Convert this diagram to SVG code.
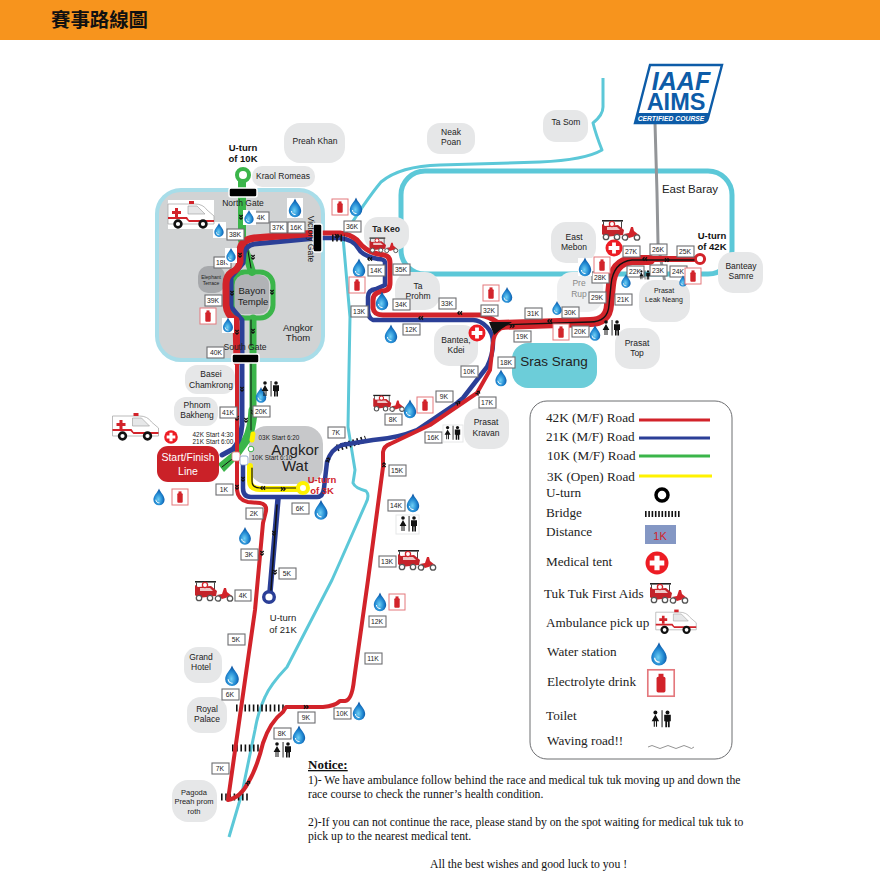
<svg xmlns="http://www.w3.org/2000/svg" width="880" height="883" viewBox="0 0 880 883">
<style>
text{font-family:"Liberation Sans",Arial,sans-serif;fill:#222;text-anchor:middle}
.pl{fill:#e6e7e8}
.pt{font-size:8.5px}
.km rect{fill:#fff;stroke:#6d6e71;stroke-width:1.1}
.km text{font-size:6.8px}
.rd{fill:none;stroke-linecap:round;stroke-linejoin:round}
.red{stroke:#d2232a}.blue{stroke:#2b3f97}.green{stroke:#3bb54a}.yellow{stroke:#fff200}.blk{stroke:#111}
.river{fill:none;stroke:#5cc8d8;stroke-width:3;stroke-linejoin:round;stroke-linecap:butt}
.tick{fill:none;stroke:#111;stroke-width:7;stroke-dasharray:1.6 2.6}
.gate{fill:#000;stroke:#fff;stroke-width:1.5}
.lg{font-family:"Liberation Serif","Times New Roman",serif;font-size:13.2px;text-anchor:start}
.nt{font-family:"Liberation Serif","Times New Roman",serif;font-size:11.7px;text-anchor:start;fill:#111}
.b{font-weight:bold;font-size:9.5px;fill:#111}
</style>
<defs>
<radialGradient id="dg" cx="0.45" cy="0.65" r="0.6"><stop offset="0" stop-color="#6fd0f5"/><stop offset="0.6" stop-color="#1f86d0"/><stop offset="1" stop-color="#0a4f9e"/></radialGradient>
<g id="chev"><path d="M-2,-1.7 L-0.4,0 L-2,1.7 M0.5,-1.7 L2.1,0 L0.5,1.7" fill="none" stroke="#111" stroke-width="1.3"/></g>
<g id="drop"><path d="M0,-9.5 C1.5,-5 6.2,-2 6.2,3 A6.2,6.2 0 0 1 -6.2,3 C-6.2,-2 -1.5,-5 0,-9.5Z" fill="url(#dg)"/><path d="M-3.5,3 A3.6,3.6 0 0 0 0.5,6.5" fill="none" stroke="#fff" stroke-width="1"/></g>
<g id="elec"><rect x="-8" y="-8" width="16" height="16" fill="#fff" stroke="#e4787d" stroke-width="1"/><rect x="-2.7" y="-3.8" width="5.4" height="9.5" rx="1" fill="#d2232a"/><rect x="-1.5" y="-5.6" width="3" height="2.5" fill="#d2232a"/></g>
<g id="toilet" fill="#111"><circle cx="-6" cy="-6" r="1.8"/><path d="M-6,-4 L-2.6,2 L-4.5,2 L-4.5,7 L-5.5,7 L-5.5,2 L-6.5,2 L-6.5,7 L-7.5,7 L-7.5,2 L-9.4,2Z"/><rect x="-0.4" y="-8" width="0.9" height="15.5"/><circle cx="5" cy="-6" r="1.8"/><path d="M2,-3.8 H8 V2 H7 V7.5 H5.4 V2.5 H4.6 V7.5 H3 V2 H2Z"/></g>
<g id="medic"><circle r="8.5" fill="#ed1c24"/><path d="M-1.9,-5.4 H1.9 V-1.9 H5.4 V1.9 H1.9 V5.4 H-1.9 V1.9 H-5.4 V-1.9 H-1.9Z" fill="#fff"/></g>
<g id="tuk"><rect x="-18" y="-10" width="21" height="1.6" fill="#222"/><rect x="-17" y="-8.5" width="1" height="9" fill="#444"/><rect x="1" y="-8.5" width="1" height="9" fill="#444"/><path d="M-18,-6 L-15,-4 L-2,-5 L4,0 L3,5 L-15,7 L-18,4Z" fill="#c4232a"/><path d="M-13,-3 H-3 L0,0 H-13Z" fill="#eec7c7"/><circle cx="-8" cy="-6" r="2.6" fill="#fff" stroke="#d2232a" stroke-width="1.3"/><path d="M4,4 L9,3 L11,-3 L13,-3 L14,1 L19,5 L9,8Z" fill="#d2232a"/><g fill="#fff" stroke="#555" stroke-width="1.3"><circle cx="-14" cy="7" r="2.7"/><circle cx="-3" cy="7" r="2.7"/><circle cx="5" cy="7.5" r="2.7"/><circle cx="17" cy="7.5" r="2.7"/></g></g>
<g id="amb"><path d="M-23,-10 H4 Q12,-10 16,-4 L23,2 V10 H-23Z" fill="#fff" stroke="#aaa" stroke-width="0.8"/><path d="M-23,3 H-4 L-2,6 H23 V8 H-2 L-5,5 H-23Z" fill="#d2232a"/><path d="M-3,-8 H6 L14,0 H-3Z" fill="#e6e7e8" stroke="#999" stroke-width="0.6"/><path d="M-16,-6 H-13 V-3 H-10 V0 H-13 V3 H-16 V0 H-19 V-3 H-16Z" fill="#d2232a"/><rect x="-2" y="-13" width="5" height="3" fill="#d2232a"/><g fill="#fff" stroke="#111" stroke-width="2.6"><circle cx="-13" cy="10" r="3.4"/><circle cx="12" cy="10" r="3.4"/></g></g>
</defs>
<rect width="880" height="883" fill="#fff"/>
<rect id="header" width="880" height="40" fill="#f7941d"/>
<text x="99.5" y="27" style="font-family:'Noto Sans CJK TC','Noto Sans CJK SC',sans-serif;font-size:19.4px;font-weight:bold;fill:#111">賽事路線圖</text>

<g id="water-features">
<path class="river" d="M603,78 L603,107 Q603,115 593,123 Q596,135 602,150 Q585,160 540,162 L440,165 Q400,166 381,182 Q366,200 343,237 L350,317 L349,370 L348,427 L355,470 L353,483 Q355,488 366,491 Q370,495 366,503 L340,562 L332,580 L287,667 Q270,685 265,697 Q258,712 255,730 L242,793 L229,837"/>
<rect x="401" y="171" width="331" height="103" rx="24" fill="none" stroke="#5cc8d8" stroke-width="5"/>
<rect x="512" y="343" width="85" height="45" rx="16" fill="#6ccdd9"/>
<text x="554" y="366" style="font-size:13.5px">Sras Srang</text>
<text x="690" y="193" style="font-size:11.5px">East Baray</text>
</g>

<path id="aims-pole" d="M655,123 L657,193 L658,243 L665,283 L671,310" fill="none" stroke="#939598" stroke-width="3"/>

<g id="aims-logo">
<path d="M650,65 L722,65 L708,118 Q707,123 700,123 L635,123 Z" fill="#fff" stroke="#0d5ca8" stroke-width="2.4"/>
<path d="M638,113 L710,113 L708,118 Q707,123 700,123 L635,123Z" fill="#0d5ca8"/>
<text x="681" y="90" style="font-size:25px;font-weight:bold;font-style:italic;fill:#0d5ca8">IAAF</text>
<text x="676" y="110" style="font-size:23.5px;font-weight:bold;fill:#0d5ca8">AIMS</text>
<text x="671" y="121" style="font-size:6.8px;font-weight:bold;font-style:italic;fill:#fff">CERTIFIED COURSE</text>
</g>

<g id="node-angkor-thom">
<rect x="157" y="190" width="166" height="170" rx="24" fill="#d1d3d4" stroke="#a8dde9" stroke-width="4"/>
<text x="298" y="331" class="pt" style="font-size:9.5px">Angkor</text><text x="298" y="341" class="pt" style="font-size:9.5px">Thom</text>
</g>

<g id="places">
<g id="node-preah-khan"><rect class="pl" x="284" y="123" width="61" height="40" rx="16"/><text class="pt" x="315" y="144">Preah Khan</text></g>
<g id="node-neak-poan"><rect class="pl" x="427" y="123" width="48" height="31" rx="13"/><text class="pt" x="451" y="135">Neak</text><text class="pt" x="451" y="145">Poan</text></g>
<g id="node-ta-som"><rect class="pl" x="543" y="110" width="45" height="32" rx="13"/><text class="pt" x="566" y="125">Ta Som</text></g>
<g id="node-kraol-romeas"><rect class="pl" x="252" y="166" width="63" height="21" rx="10"/><text class="pt" x="283" y="179">Kraol Romeas</text></g>
<g id="node-ta-keo"><rect class="pl" x="364" y="217" width="45" height="33" rx="14"/><text x="386" y="232" class="pt" style="font-weight:bold">Ta Keo</text></g>
<g id="node-ta-prohm"><rect class="pl" x="395" y="272" width="45" height="38" rx="15"/><text class="pt" x="418" y="289">Ta</text><text class="pt" x="418" y="299">Prohm</text></g>
<g id="node-east-mebon"><rect class="pl" x="551" y="222" width="45" height="41" rx="15"/><text class="pt" x="574" y="240">East</text><text class="pt" x="574" y="250">Mebon</text></g>
<g id="node-pre-rup"><rect x="557" y="272" width="46" height="40" rx="15" fill="#eeeff0"/><text class="pt" x="579" y="286" style="fill:#888">Pre</text><text class="pt" x="579" y="297" style="fill:#888">Rup</text></g>
<g id="node-leak-neang"><rect class="pl" x="639" y="280" width="51" height="42" rx="16"/><text x="664" y="293" style="font-size:7px">Prasat</text><text x="664" y="302" style="font-size:7px">Leak Neang</text></g>
<g id="node-banteay-samre"><rect class="pl" x="718" y="252" width="45" height="41" rx="15"/><text class="pt" x="741" y="269">Banteay</text><text class="pt" x="741" y="279">Samre</text></g>
<g id="node-prasat-top"><rect class="pl" x="615" y="328" width="45" height="41" rx="15"/><text class="pt" x="637" y="346">Prasat</text><text class="pt" x="637" y="356">Top</text></g>
<g id="node-bantea-kdei"><rect class="pl" x="434" y="325" width="44" height="41" rx="15"/><text class="pt" x="456" y="343">Bantea,</text><text class="pt" x="456" y="353">Kdei</text></g>
<g id="node-prasat-kravan"><rect class="pl" x="464" y="408" width="45" height="41" rx="15"/><text class="pt" x="486" y="425">Prasat</text><text class="pt" x="486" y="436">Kravan</text></g>
<g id="node-basei"><rect class="pl" x="185" y="365" width="50" height="29" rx="12"/><text class="pt" x="211" y="377">Basei</text><text class="pt" x="211" y="388">Chamkrong</text></g>
<g id="node-phnom"><rect class="pl" x="174" y="397" width="44" height="29" rx="12"/><text class="pt" x="197" y="408">Phnom</text><text class="pt" x="197" y="418">Bakheng</text></g>
<g id="node-grand-hotel"><rect class="pl" x="184" y="647" width="38" height="36" rx="14"/><text class="pt" x="201" y="660">Grand</text><text class="pt" x="201" y="670">Hotel</text></g>
<g id="node-royal-palace"><rect class="pl" x="187" y="697" width="40" height="36" rx="14"/><text class="pt" x="207" y="712">Royal</text><text class="pt" x="207" y="722">Palace</text></g>
<g id="node-pagoda"><rect class="pl" x="172" y="780" width="45" height="42" rx="16"/><text x="194" y="795" style="font-size:7.5px">Pagoda</text><text x="194" y="804" style="font-size:7.5px">Preah prom</text><text x="194" y="814" style="font-size:7.5px">roth</text></g>
<g id="node-elephant"><rect x="198" y="266" width="27" height="27" rx="10" fill="#a7a9ac"/><text x="211" y="279" style="font-size:5px">Elephant</text><text x="211" y="285" style="font-size:5px">Terrace</text></g>
<g id="node-bayon"><rect x="233" y="275" width="36" height="39" rx="9" fill="#b1b3b6"/><text x="252" y="294" style="font-size:9.5px">Bayon</text><text x="253" y="305" style="font-size:9.5px">Temple</text></g>
<g id="node-angkor-wat"><rect x="249" y="426" width="74" height="58" rx="18" fill="#c7c8ca"/><text x="295" y="455" style="font-size:15px">Angkor</text><text x="295" y="471" style="font-size:15px">Wat</text></g>
</g>

<g id="connectors">
<g class="tick-group">
<path class="tick" d="M236,708 H285"/><path class="tick" d="M232,748 H261"/><path class="tick" d="M221,797 H250"/>
<path class="tick" d="M337,448 L366,439"/>
</g>
<!-- green 10K -->
<path class="rd green" stroke-width="8" d="M242,182 V240 L252,272"/>
<rect class="rd green" stroke-width="5" x="232" y="272" width="41" height="46" rx="13" style="fill:none"/>
<path class="rd green" stroke-width="7" d="M253,318 V417" stroke-linecap="butt"/>
<path class="rd green" stroke-width="9" d="M253,410 Q252,430 246,440 L236,454"/>
<path d="M218,464 L235,450 L240,456 L224,472Z" fill="#3bb54a"/>
<path class="rd blk" stroke-width="1" d="M246,240 L251,268 M251,320 V346 M251,362 V430 M222,467 L236,456"/>
<!-- yellow 3K -->
<path class="rd yellow" stroke-width="6" d="M250,466 V481 Q250,489 260,489 H298"/>
<path class="rd yellow" stroke-width="5" d="M252,440 L253,434"/>
<path class="rd blk" stroke-width="1.2" d="M252,468 V481 Q252,488 260,488 H296"/>
<!-- blue 21K -->
<path class="rd blue" stroke-width="5" d="M242,360 V425 Q241,440 233,449 L222,455"/>
<path class="rd blue" stroke-width="4.5" d="M243,463 V488 Q243,497 251,497 H317 Q323,497 324,488 L327,462 Q331,449 342,445 L373,440 Q398,438 417,430 L457,403 L463,398 L487,367 Q493,355 493,343 Q493,333 487,327 Q480,320 473,320 H373 Q368,318 368,310 V297 Q368,290 376,289 L385,285 V262 Q384,259 378,259 Q362,256 358,248 Q354,240 340,238 L323,238"/>
<path class="rd blue" stroke-width="5.5" d="M278,499 L270,592"/>
<path class="rd blue" stroke-width="5" d="M317,238 L254,244 Q245,246 244,254 L243,263 L231,277 V307 L242,320 V362"/>
<circle cx="269" cy="597" r="5.3" fill="#fff" stroke="#2b3f97" stroke-width="3.4"/>
<path class="rd blk" stroke-width="1.5" d="M277,505 L271,590"/>
<!-- red 42K -->
<path class="rd red" stroke-width="7" d="M317,233 L254,238 Q241,240 240,250 V262 Q238,270 232,272 Q226,276 226,284 V305 Q227,316 236,320 L237,362"/>
<path class="rd red" stroke-width="4" d="M237,360 V490 Q238,500 248,502 L260,503 Q267,504 266,511 L263,523 L255,610 L228,800 Q240,798 248,783 Q257,768 263,743 Q270,722 283,712 L286,707 H323 Q335,706 340,701 L345,701 Q352,700 354,680 L368,580 L383,467 V452 Q384,446 390,444 L430,425 L477,393 L490,370 L493,343 Q494,333 500,329 L508,326"/>
<path class="rd red" stroke-width="5" d="M323,233 H340 Q350,234 357,240 Q366,252 378,254 L384,255 Q390,256 390,263 V283 Q390,291 382,291 L377,293 Q373,295 373,300 V308 Q374,315 383,315 H480 Q490,317 497,322"/>
<path class="rd red" stroke-width="10" d="M497,325 L590,322 Q608,322 609,305 L611,285 Q613,262 632,260 H650"/>
<path class="rd red" stroke-width="6" d="M650,259 H697"/>
<circle cx="700" cy="259" r="4.6" fill="#fff" stroke="#d2232a" stroke-width="3"/>
<path class="rd blk" stroke-width="1.4" d="M497,325 L590,322 Q608,322 609,305 L611,285 Q613,262 632,260 H694"/>
<path d="M489,322 L512,322 L500,330 L494,335Z" fill="#111"/>
<path d="M332,238 H345" fill="none" stroke="#111" stroke-width="7" stroke-dasharray="1.6 2.6"/>
<!-- green U-turn and yellow U-turn -->
<circle cx="243" cy="175" r="6" fill="#fff" stroke="#3bb54a" stroke-width="4"/>
<circle cx="303" cy="488" r="5" fill="#fff" stroke="#fff200" stroke-width="4"/>
<use href="#chev" transform="translate(241,217) rotate(90)"/><use href="#chev" transform="translate(240,255) rotate(90)"/>
<use href="#chev" transform="translate(253,257) rotate(90)"/><use href="#chev" transform="translate(272,292) rotate(90)"/>
<use href="#chev" transform="translate(232,293) rotate(90)"/><use href="#chev" transform="translate(237,332) rotate(90)"/><use href="#chev" transform="translate(253,331) rotate(90)"/>
<use href="#chev" transform="translate(337,236)"/><use href="#chev" transform="translate(370,259) rotate(180)"/><use href="#chev" transform="translate(421,318) rotate(180)"/><use href="#chev" transform="translate(460,313) rotate(180)"/>
<use href="#chev" transform="translate(512,326)"/><use href="#chev" transform="translate(550,321) rotate(180)"/>
<use href="#chev" transform="translate(645,259) rotate(180)"/><use href="#chev" transform="translate(667,260)"/>
<use href="#chev" transform="translate(242,389) rotate(90)"/><use href="#chev" transform="translate(237,418) rotate(90)"/><use href="#chev" transform="translate(246,420) rotate(90)"/><use href="#chev" transform="translate(253,412) rotate(90)"/>
<use href="#chev" transform="translate(243,479) rotate(90)"/><use href="#chev" transform="translate(237,487) rotate(90)"/><use href="#chev" transform="translate(263,488) rotate(180)"/><use href="#chev" transform="translate(283,489)"/>
<use href="#chev" transform="translate(274,533) rotate(90)"/><use href="#chev" transform="translate(275,572) rotate(90)"/><use href="#chev" transform="translate(262,553) rotate(90)"/>
<use href="#chev" transform="translate(328,460) rotate(-70)"/><use href="#chev" transform="translate(458,403) rotate(-35)"/><use href="#chev" transform="translate(478,393) rotate(-55)"/>
<use href="#chev" transform="translate(384,465) rotate(-90)"/><use href="#chev" transform="translate(306,707)"/><use href="#chev" transform="translate(248,783) rotate(-50)"/>
</g>

<g id="gates">
<rect class="gate" x="229" y="188" width="28" height="9" rx="2"/>
<rect class="gate" x="232" y="354" width="27" height="9" rx="2"/>
<rect class="gate" x="313" y="224" width="9" height="28" rx="2"/>
<text x="243" y="206" class="pt">North Gate</text>
<text x="245" y="350" class="pt">South Gate</text>
<text transform="translate(308,239) rotate(90)" class="pt">Victory Gate</text>
</g>

<g id="start-finish">
<rect x="157" y="446" width="62" height="36" rx="11" fill="#ca2128"/>
<text x="188" y="461" style="font-size:10.5px;fill:#fff">Start/Finish</text>
<text x="188" y="475" style="font-size:10.5px;fill:#fff">Line</text>
<text x="213" y="437" style="font-size:6.4px">42K Start 4:30</text>
<text x="213" y="444" style="font-size:6.4px">21K Start 6:00</text>
<text x="279" y="440" style="font-size:6.4px">03K Start 6:20</text>
<text x="272" y="460" style="font-size:6.4px">10K Start 6:10</text>
<rect x="232" y="452" width="8" height="9" rx="2" fill="#fff" stroke="#e4787d" stroke-width="0.8"/>
<rect x="240" y="456" width="8" height="9" rx="2" fill="#fff" stroke="#8497c4" stroke-width="0.8"/>
<circle cx="251" cy="449" r="2.8" fill="#fff" stroke="#3bb54a" stroke-width="1"/>
</g>

<g id="turn-labels">
<text class="b" x="243" y="151">U-turn</text><text class="b" x="243" y="162">of 10K</text>
<text class="b" x="712" y="239">U-turn</text><text class="b" x="712" y="250">of 42K</text>
<text x="322" y="483" class="b" style="fill:#d2232a">U-turn</text><text x="322" y="494" class="b" style="fill:#d2232a">of 3K</text>
<text x="283" y="621" style="font-size:9.5px">U-turn</text><text x="283" y="633" style="font-size:9.5px">of 21K</text>
</g>

<g id="distance-marks" class="km">
<g><rect x="253" y="212" width="16" height="11"/><text x="261" y="220">4K</text></g>
<g><rect x="270" y="222" width="17" height="11"/><text x="278" y="230">37K</text></g>
<g><rect x="288" y="222" width="17" height="11"/><text x="296" y="230">16K</text></g>
<g><rect x="227" y="229" width="17" height="11"/><text x="235" y="237">38K</text></g>
<g><rect x="214" y="257" width="17" height="11"/><text x="222" y="265">18K</text></g>
<g><rect x="205" y="295" width="17" height="11"/><text x="213" y="303">39K</text></g>
<g><rect x="207" y="347" width="17" height="11"/><text x="216" y="355">40K</text></g>
<g><rect x="344" y="221" width="17" height="11"/><text x="352" y="229">36K</text></g>
<g><rect x="368" y="265" width="17" height="11"/><text x="376" y="273">14K</text></g>
<g><rect x="393" y="264" width="17" height="11"/><text x="401" y="272">35K</text></g>
<g><rect x="351" y="306" width="17" height="11"/><text x="359" y="314">13K</text></g>
<g><rect x="393" y="299" width="17" height="11"/><text x="401" y="307">34K</text></g>
<g><rect x="403" y="324" width="17" height="11"/><text x="411" y="332">12K</text></g>
<g><rect x="439" y="298" width="17" height="11"/><text x="447" y="306">33K</text></g>
<g><rect x="481" y="305" width="17" height="11"/><text x="489" y="313">32K</text></g>
<g><rect x="525" y="308" width="17" height="11"/><text x="533" y="316">31K</text></g>
<g><rect x="562" y="307" width="17" height="11"/><text x="570" y="315">30K</text></g>
<g><rect x="514" y="331" width="17" height="11"/><text x="522" y="339">19K</text></g>
<g><rect x="498" y="357" width="17" height="11"/><text x="506" y="365">18K</text></g>
<g><rect x="461" y="366" width="17" height="11"/><text x="469" y="374">10K</text></g>
<g><rect x="436" y="391" width="17" height="11"/><text x="444" y="399">9K</text></g>
<g><rect x="479" y="397" width="17" height="11"/><text x="487" y="405">17K</text></g>
<g><rect x="385" y="414" width="17" height="11"/><text x="393" y="422">8K</text></g>
<g><rect x="425" y="432" width="17" height="11"/><text x="433" y="440">16K</text></g>
<g><rect x="389" y="465" width="17" height="11"/><text x="397" y="473">15K</text></g>
<g><rect x="388" y="500" width="17" height="11"/><text x="396" y="508">14K</text></g>
<g><rect x="379" y="556" width="17" height="11"/><text x="387" y="564">13K</text></g>
<g><rect x="369" y="616" width="17" height="11"/><text x="377" y="624">12K</text></g>
<g><rect x="365" y="653" width="17" height="11"/><text x="373" y="661">11K</text></g>
<g><rect x="334" y="708" width="17" height="11"/><text x="342" y="716">10K</text></g>
<g><rect x="298" y="712" width="17" height="11"/><text x="306" y="720">9K</text></g>
<g><rect x="274" y="728" width="17" height="11"/><text x="282" y="736">8K</text></g>
<g><rect x="212" y="763" width="17" height="11"/><text x="220" y="771">7K</text></g>
<g><rect x="222" y="689" width="17" height="11"/><text x="230" y="697">6K</text></g>
<g><rect x="228" y="634" width="17" height="11"/><text x="236" y="642">5K</text></g>
<g><rect x="235" y="590" width="16" height="11"/><text x="243" y="598">4K</text></g>
<g><rect x="241" y="549" width="17" height="11"/><text x="249" y="557">3K</text></g>
<g><rect x="279" y="568" width="17" height="11"/><text x="287" y="576">5K</text></g>
<g><rect x="246" y="508" width="17" height="11"/><text x="254" y="516">2K</text></g>
<g><rect x="216" y="484" width="17" height="11"/><text x="224" y="492">1K</text></g>
<g><rect x="292" y="503" width="17" height="11"/><text x="300" y="511">6K</text></g>
<g><rect x="328" y="427" width="17" height="11"/><text x="336" y="435">7K</text></g>
<g><rect x="253" y="406" width="17" height="11"/><text x="261" y="414">20K</text></g>
<g><rect x="220" y="407" width="17" height="11"/><text x="228" y="415">41K</text></g>
<g><rect x="572" y="326" width="17" height="11"/><text x="580" y="334">20K</text></g>
<g><rect x="615" y="294" width="17" height="11"/><text x="623" y="302">21K</text></g>
<g><rect x="627" y="266" width="17" height="11"/><text x="635" y="274">22K</text></g>
<g><rect x="650" y="265" width="17" height="11"/><text x="658" y="273">23K</text></g>
<g><rect x="670" y="266" width="17" height="11"/><text x="678" y="274">24K</text></g>
<g><rect x="677" y="246" width="17" height="11"/><text x="685" y="254">25K</text></g>
<g><rect x="650" y="244" width="17" height="11"/><text x="658" y="252">26K</text></g>
<g><rect x="623" y="246" width="17" height="11"/><text x="631" y="254">27K</text></g>
<g><rect x="592" y="272" width="17" height="11"/><text x="600" y="280">28K</text></g>
<g><rect x="589" y="292" width="17" height="11"/><text x="597" y="300">29K</text></g>
</g>

<g id="water-stations">
<rect x="287" y="198" width="16" height="20" fill="#fff"/><rect x="213" y="222" width="13" height="16" fill="#fff"/><rect x="243" y="210" width="13" height="15" fill="#fff"/><rect x="225" y="248" width="12" height="15" fill="#fff"/><rect x="222" y="318" width="12" height="15" fill="#fff"/><rect x="578" y="258" width="14" height="18" fill="#fff"/>
<use href="#drop" transform="translate(295,208)"/><use href="#drop" transform="translate(219,230) scale(.75)"/><use href="#drop" transform="translate(249,217) scale(.75)"/><use href="#drop" transform="translate(231,255) scale(.75)"/><use href="#drop" transform="translate(228,325) scale(.8)"/>
<use href="#drop" transform="translate(356,207)"/><use href="#drop" transform="translate(359,268)"/><use href="#drop" transform="translate(382,301)"/><use href="#drop" transform="translate(391,334)"/><use href="#drop" transform="translate(507,295) scale(.85)"/><use href="#drop" transform="translate(557,308) scale(.75)"/><use href="#drop" transform="translate(501,378) scale(.9)"/>
<use href="#drop" transform="translate(585,267)"/><use href="#drop" transform="translate(626,281) scale(.75)"/><use href="#drop" transform="translate(683,281) scale(.6)"/><use href="#drop" transform="translate(595,333) scale(.85)"/>
<use href="#drop" transform="translate(261,395) scale(.85)"/><use href="#drop" transform="translate(159,497) scale(.9)"/><use href="#drop" transform="translate(245,536) scale(.95)"/><use href="#drop" transform="translate(321,510) scale(1.05)"/>
<use href="#drop" transform="translate(410,409)"/><use href="#drop" transform="translate(413,503)"/><use href="#drop" transform="translate(380,602)"/>
<use href="#drop" transform="translate(232,676) scale(1.1)"/><use href="#drop" transform="translate(359,711)"/><use href="#drop" transform="translate(299,735)"/>
</g>

<g id="electrolyte">
<use href="#elec" transform="translate(208,316)"/><use href="#elec" transform="translate(340,207)"/><use href="#elec" transform="translate(357,285)"/><use href="#elec" transform="translate(491,293)"/><use href="#elec" transform="translate(561,332)"/><use href="#elec" transform="translate(602,265)"/><use href="#elec" transform="translate(693,276)"/><use href="#elec" transform="translate(180,497)"/><use href="#elec" transform="translate(425,405)"/><use href="#elec" transform="translate(397,602)"/>
</g>

<g id="toilets">
<use href="#toilet" transform="translate(271,389)"/><use href="#toilet" transform="translate(612,328)"/><use href="#toilet" transform="translate(645,275) scale(.6)"/>
<rect x="396" y="515" width="23" height="19" fill="#fff" stroke="#e6e7e8"/><rect x="443" y="425" width="20" height="17" fill="#fff" stroke="#e6e7e8"/>
<use href="#toilet" transform="translate(453,433) scale(.9)"/><use href="#toilet" transform="translate(409,524)"/><use href="#toilet" transform="translate(283,750)"/>
</g>

<g id="tuktuks">
<use href="#tuk" transform="translate(620,230)"/><use href="#tuk" transform="translate(383,245) scale(.75)"/><use href="#tuk" transform="translate(388,403) scale(.82)"/><use href="#tuk" transform="translate(416,560)"/><use href="#tuk" transform="translate(213,591)"/>
</g>

<g id="ambulances">
<rect x="168" y="200" width="46" height="29" fill="#fff"/>
<use href="#amb" transform="translate(191,214)"/><use href="#amb" transform="translate(135.5,426)"/>
</g>

<g id="medical-tents">
<use href="#medic" transform="translate(614,248)"/><use href="#medic" transform="translate(477,333)"/><use href="#medic" transform="translate(171,437) scale(.8)"/>
</g>

<g id="legend">
<rect x="530" y="401" width="202" height="358" rx="17" fill="#fff" stroke="#6d6e71" stroke-width="1"/>
<text class="lg" x="546" y="422">42K (M/F) Road</text><path class="red" stroke-width="3" d="M639,420 H710"/>
<text class="lg" x="546" y="441">21K (M/F) Road</text><path class="blue" stroke-width="3" d="M639,438 H710"/>
<text class="lg" x="547" y="460">10K (M/F) Road</text><path class="green" stroke-width="3" d="M639,456 H710"/>
<text class="lg" x="547" y="481">3K (Open) Road</text><path class="yellow" stroke-width="3" d="M639,476 H712"/>
<text class="lg" x="546" y="497">U-turn</text><circle cx="662" cy="495" r="6" fill="#fff" stroke="#000" stroke-width="3.5"/>
<text class="lg" x="546" y="517">Bridge</text><path d="M645,514 H681" fill="none" stroke="#111" stroke-width="6" stroke-dasharray="1.6 1.7"/>
<text class="lg" x="546" y="536">Distance</text><rect x="645" y="525" width="31" height="19" fill="#8497c4"/><text x="660" y="540" style="font-size:11px;fill:#d2232a">1K</text>
<text class="lg" x="546" y="566">Medical tent</text><use href="#medic" transform="translate(657,563) scale(1.35)"/>
<text class="lg" x="544" y="598">Tuk Tuk First Aids</text><use href="#tuk" transform="translate(668,593)"/>
<text class="lg" x="546" y="627">Ambulance pick up</text><use href="#amb" transform="translate(676,621) scale(.88)"/>
<text class="lg" x="547" y="656">Water station</text><use href="#drop" transform="translate(659,654) scale(1.25)"/>
<text class="lg" x="547" y="686">Electrolyte drink</text><use href="#elec" transform="translate(661,683) scale(1.65)"/>
<text class="lg" x="546" y="720">Toilet</text><use href="#toilet" transform="translate(662,719) scale(1.1)"/>
<text class="lg" x="547" y="745">Waving road!!</text><path d="M648,747 q4,-3 8,0 t8,0 t8,0 t8,0 t8,0 t6,0" fill="none" stroke="#888" stroke-width="0.9"/>
</g>

<g id="notice">
<text x="308" y="769" class="nt" style="font-weight:bold;font-size:13px;text-decoration:underline">Notice:</text>
<text class="nt" x="308" y="784">1)- We have ambulance follow behind the race and medical tuk tuk moving up and down the</text>
<text class="nt" x="308" y="798">race course to check the runner’s health condition.</text>
<text class="nt" x="308" y="826">2)-If you can not continue the race, please stand by on the spot waiting for medical tuk tuk to</text>
<text class="nt" x="308" y="840">pick up to the nearest medical tent.</text>
<text class="nt" x="430" y="868">All the best wishes and good luck to you !</text>
</g>
</svg>
